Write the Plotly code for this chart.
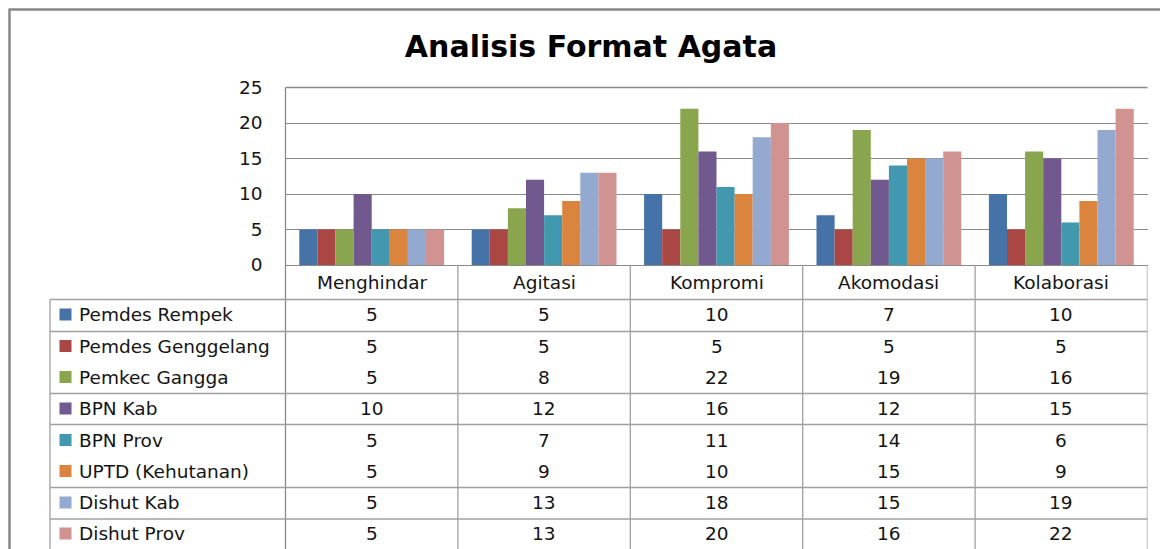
import plotly.graph_objects as go

# the page body keeps an 8px default margin; the figure is sized to fit the window
OFF = 8
W, H = 1168 - OFF, 549 - OFF

title = "Analisis Format Agata"
categories = ["Menghindar", "Agitasi", "Kompromi", "Akomodasi", "Kolaborasi"]
series_names = ["Pemdes Rempek", "Pemdes Genggelang", "Pemkec Gangga", "BPN Kab",
                "BPN Prov", "UPTD (Kehutanan)", "Dishut Kab", "Dishut Prov"]
pemdes_rempek = [5, 5, 10, 7, 10]
pemdes_genggelang = [5, 5, 5, 5, 5]
pemkec_gangga = [5, 8, 22, 19, 16]
bpn_kab = [10, 12, 16, 12, 15]
bpn_prov = [5, 7, 11, 14, 6]
uptd_kehutanan = [5, 9, 10, 15, 9]
dishut_kab = [5, 13, 18, 15, 19]
dishut_prov = [5, 13, 20, 16, 22]
series_values = [pemdes_rempek, pemdes_genggelang, pemkec_gangga, bpn_kab,
                 bpn_prov, uptd_kehutanan, dishut_kab, dishut_prov]
colors = ["#4572A7", "#AA4643", "#89A54E", "#71588F",
          "#4198AF", "#DB843D", "#93A9CF", "#D19392"]
y_ticks = [0, 5, 10, 15, 20, 25]

FONT = "DejaVu Sans"
TXT = "#141414"
GRID = "#8a8a8a"
TLINE = "#a0a0a0"
FS = 18.5


def X(px):
    # px: position in the reference picture
    return (px - OFF) / W


def Y(py):
    return 1 - (py - OFF) / H


plot_l, plot_r, plot_t, plot_b = 285.5, 1147.5, 87.5, 265.0
cat_row_b = 299.5
row_centers = [314.5, 346, 377, 408.5, 440, 471, 502.5, 533.5]
row_lines = [331.5, 393.5, 424.5, 487.5, 519.0]
bottom = 549

fig = go.Figure()
for name, vals, col in zip(series_names, series_values, colors):
    fig.add_trace(go.Bar(name=name, x=categories, y=vals,
                         marker=dict(color=col, line=dict(width=0)),
                         hoverinfo="y+name"))

shapes = []
annotations = []

# outer chart border
shapes.append(dict(type="line", xref="paper", yref="paper",
                   x0=X(9.5), x1=X(9.5), y0=Y(bottom + 2), y1=Y(9.5),
                   line=dict(color="#878787", width=2.5)))
shapes.append(dict(type="line", xref="paper", yref="paper",
                   x0=X(8.5), x1=X(1170), y0=Y(9.5), y1=Y(9.5),
                   line=dict(color="#878787", width=2.5)))

# left border of plot + table area
shapes.append(dict(type="line", xref="paper", yref="paper",
                   x0=X(plot_l), x1=X(plot_l), y0=Y(bottom + 2), y1=Y(plot_t),
                   line=dict(color=GRID, width=1.3)))
# top gridline (25)
shapes.append(dict(type="line", xref="paper", yref="paper",
                   x0=X(plot_l), x1=X(plot_r), y0=Y(plot_t), y1=Y(plot_t),
                   line=dict(color=GRID, width=1.3)))

# category row vertical separators + right border
for i in range(len(categories)):
    xe = i + 0.5
    shapes.append(dict(type="line", xref="x", yref="paper",
                       x0=xe, x1=xe, y0=Y(bottom + 2), y1=Y(plot_b),
                       line=dict(color=TLINE, width=1.3)))
# bottom of category row / top of table
shapes.append(dict(type="line", xref="paper", yref="paper",
                   x0=X(50), x1=X(plot_r), y0=Y(cat_row_b), y1=Y(cat_row_b),
                   line=dict(color=TLINE, width=1.3)))
# table left border
shapes.append(dict(type="line", xref="paper", yref="paper",
                   x0=X(50), x1=X(50), y0=Y(bottom + 2), y1=Y(cat_row_b),
                   line=dict(color=TLINE, width=1.3)))
# table horizontal lines
for ry in row_lines:
    shapes.append(dict(type="line", xref="paper", yref="paper",
                       x0=X(50), x1=X(plot_r), y0=Y(ry), y1=Y(ry),
                       line=dict(color=TLINE, width=1.3)))

# category labels
for c in categories:
    annotations.append(dict(x=c, xref="x", y=Y(282), yref="paper",
                            text=c, showarrow=False, xanchor="center", yanchor="middle",
                            font=dict(family=FONT, size=FS, color=TXT)))

# table: legend keys, names and values
for r, (name, vals, col) in enumerate(zip(series_names, series_values, colors)):
    cy = row_centers[r]
    shapes.append(dict(type="rect", xref="paper", yref="paper",
                       x0=X(59.5), x1=X(71.5), y0=Y(cy + 6), y1=Y(cy - 6),
                       fillcolor=col, line=dict(width=0)))
    annotations.append(dict(x=X(77), xref="paper", y=Y(cy), yref="paper",
                            text=name, showarrow=False, xanchor="left", yanchor="middle",
                            font=dict(family=FONT, size=FS, color=TXT)))
    for c, v in zip(categories, vals):
        annotations.append(dict(x=c, xref="x", y=Y(cy), yref="paper",
                                text=str(v), showarrow=False, xanchor="center",
                                yanchor="middle",
                                font=dict(family=FONT, size=FS, color=TXT)))

fig.update_layout(
    width=W, height=H,
    margin=dict(l=0, r=0, t=0, b=0, autoexpand=False),
    paper_bgcolor="white", plot_bgcolor="white",
    barmode="group", bargap=0.16, bargroupgap=0,
    showlegend=False,
    title=dict(text="<b>" + title + "</b>", x=X(591), xanchor="center",
               y=Y(46), yanchor="middle",
               font=dict(family=FONT, size=30, color="#000000")),
    xaxis=dict(domain=[X(plot_l), X(plot_r)], showticklabels=False,
               showgrid=False, zeroline=False, showline=False, ticks="",
               automargin=False,
               range=[-0.5, len(categories) - 0.5], fixedrange=True),
    yaxis=dict(domain=[Y(plot_b), Y(plot_t)], range=[0, 25],
               tickvals=y_ticks, ticktext=[str(t) for t in y_ticks],
               showgrid=True, gridcolor=GRID, gridwidth=1.3,
               zeroline=True, zerolinecolor=GRID, zerolinewidth=1.3,
               showline=False, ticks="", ticklabelstandoff=22, automargin=False,
               tickfont=dict(family=FONT, size=FS, color=TXT), fixedrange=True),
    shapes=shapes,
    annotations=annotations,
)

fig.write_html("out.html")
